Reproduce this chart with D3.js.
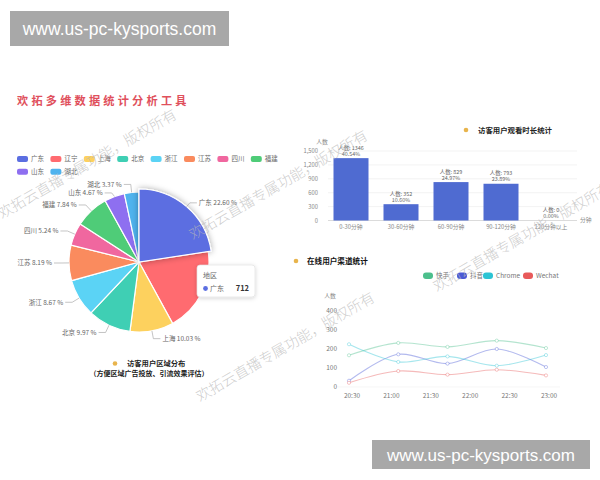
<!DOCTYPE html>
<html><head><meta charset="utf-8">
<script src="https://cdn.jsdelivr.net/npm/d3@7"></script>
<style>
body{margin:0;background:#fff;}
svg{display:block;font-family:"Noto Sans CJK SC","Noto Sans",sans-serif;}
</style></head>
<body><svg id="c" width="600" height="480"></svg>
<script>
// ---------- data ----------
const regions = ["广东","辽宁","上海","北京","浙江","江苏","四川","福建","山东","湖北"];
const regionValues = [712,612,316,314,273,258,165,247,147,106];
const regionColors = ["#5b6ee1","#ff6b70","#fdd15e","#3fcfb4","#5bd3f5","#fa8b5e","#f0679f","#4fcc78","#8e6ff0","#4fb3ee"];

const durations = ["0-30分钟","30-60分钟","60-90分钟","90-120分钟","120分钟以上"];
const durationValues = [1346,352,829,793,0];
const barTicks = [0,300,600,900,1200,1500];

const timeLabels = ["20:30","21:00","21:30","22:00","22:30","23:00"];
const sampleTimes = ["20:30","21:07:30","21:45","22:22:30","23:00"];
const channels = ["快手","抖音","Chrome","Wechat"];
const channelColors = ["#4cbf8c","#4b5bd6","#2cc4d4","#e85a5a"];
const kuaishou = [167,232,211,244,205];
const douyin   = [33,172,123,200,105];
const chrome   = [225,132,161,112,168];
const wechat   = [22,84,65,91,61];
const lineTicks = [0,100,200,300,400];

const watermark = "欢拓云直播专属功能，版权所有";
const site = "www.us-pc-kysports.com";

// ---------- drawing ----------
const svg = d3.select("#c");
const defs = svg.append("defs");
const f = defs.append("filter").attr("id","sh").attr("x","-30%").attr("y","-30%").attr("width","160%").attr("height","160%");
f.append("feDropShadow").attr("dx",0).attr("dy",0).attr("stdDeviation",3).attr("flood-color","#000").attr("flood-opacity",0.35);
const f2 = defs.append("filter").attr("id","sh2").attr("x","-30%").attr("y","-30%").attr("width","160%").attr("height","160%");
f2.append("feDropShadow").attr("dx",0).attr("dy",1).attr("stdDeviation",2).attr("flood-color","#000").attr("flood-opacity",0.18);

// top url box
svg.append("rect").attr("x",10).attr("y",11).attr("width",219).attr("height",35).attr("fill","#a8a8a8");
svg.append("text").attr("x",119.5).attr("y",35).attr("text-anchor","middle").attr("fill","#fff")
  .style("font-family","'Liberation Sans',Arial,sans-serif").attr("font-size",17.5).text(site);

// main title
svg.append("text").attr("x",17).attr("y",105).attr("fill","#e0505c").attr("font-size",11.2)
  .attr("font-weight","bold").attr("letter-spacing",3.2).text("欢拓多维数据统计分析工具");

// pie legend
const leg = svg.append("g");
regions.forEach((r,i)=>{
  const col = i%8, row = Math.floor(i/8);
  const x = 17 + col*33.4, y = 159 + row*12.7;
  leg.append("rect").attr("x",x).attr("y",y-3).attr("width",11).attr("height",6).attr("rx",2).attr("fill",regionColors[i]);
  leg.append("text").attr("x",x+14).attr("y",y+2.3).attr("font-size",6.5).attr("fill","#666").text(r);
});

// pie
const cx = 139, cy = 262, R = 70;
const total = d3.sum(regionValues);
const pie = d3.pie().sort(null)(regionValues);
const arc = d3.arc().innerRadius(0).outerRadius(R);
const arcHi = d3.arc().innerRadius(0).outerRadius(R+3);
const pg = svg.append("g").attr("transform",`translate(${cx},${cy})`);
pg.selectAll("path.s").data(pie).join("path")
  .attr("d",(d,i)=> i===0 ? arcHi(d) : arc(d))
  .attr("fill",(d,i)=>regionColors[i])
  .attr("stroke","#fff").attr("stroke-width",1.2)
  .attr("filter",(d,i)=> i===0 ? "url(#sh)" : null);
pg.selectAll("path").filter((d,i)=>i===0).raise();

// labels with leader lines
const labels = pie.map((d,i)=>{
  const a = (d.startAngle+d.endAngle)/2;
  const rr = i===0 ? R+3 : R;
  const sx = Math.sin(a), sy = -Math.cos(a);
  const side = sx >= 0 ? 1 : -1;
  return {i, a, side, p1:[sx*rr, sy*rr], p2:[sx*(R+8), sy*(R+8)]};
}).filter(l => l.i !== 1); // 辽宁 label hidden under tooltip
[-1,1].forEach(s=>{
  const arr = labels.filter(l=>l.side===s).sort((a,b)=>a.p2[1]-b.p2[1]);
  for(let k=1;k<arr.length;k++){
    if(arr[k].p2[1]-arr[k-1].p2[1] < 8.5) arr[k].p2[1] = arr[k-1].p2[1]+8.5;
  }
});
labels.forEach(l=>{
  const p3 = [l.p2[0]+l.side*7, l.p2[1]];
  pg.append("polyline").attr("points",[l.p1,l.p2,p3].map(p=>p.join(",")).join(" "))
    .attr("fill","none").attr("stroke","#aaa").attr("stroke-width",0.7);
  const pct = (regionValues[l.i]/total*100).toFixed(2);
  pg.append("text").attr("x",p3[0]+l.side*2).attr("y",p3[1]+2.3)
    .attr("text-anchor", l.side>0 ? "start":"end").attr("font-size",6.5).attr("fill","#666")
    .text(`${regions[l.i]} ${pct} %`);
});

// tooltip
const tt = svg.append("g").attr("transform","translate(197,265)");
tt.append("rect").attr("width",58).attr("height",32).attr("rx",3).attr("fill","#fff")
  .attr("stroke","#ddd").attr("stroke-width",0.6).attr("filter","url(#sh2)");
tt.append("text").attr("x",6).attr("y",13).attr("font-size",7).attr("fill","#666").text("地区");
tt.append("circle").attr("cx",8.5).attr("cy",23.5).attr("r",2.4).attr("fill",regionColors[0]);
tt.append("text").attr("x",13).attr("y",26).attr("font-size",7).attr("fill","#666").text(regions[0]);
tt.append("text").attr("x",52).attr("y",26).attr("text-anchor","end").attr("font-size",7.5)
  .attr("font-weight","bold").attr("fill","#333").text(regionValues[0]);

// pie caption
svg.append("circle").attr("cx",115).attr("cy",363.5).attr("r",2.3).attr("fill","#e8b44c");
svg.append("text").attr("x",127).attr("y",366).attr("font-size",7.3).attr("font-weight","bold").attr("fill","#222").text("访客用户区域分布");
svg.append("text").attr("x",149).attr("y",375.5).attr("text-anchor","middle").attr("font-size",7).attr("font-weight","bold").attr("fill","#222").text("（方便区域广告投放、引流效果评估）");

// ---------- bar chart ----------
svg.append("circle").attr("cx",466).attr("cy",130).attr("r",2.3).attr("fill","#e8b44c");
svg.append("text").attr("x",478).attr("y",133).attr("font-size",7.4).attr("font-weight","bold").attr("fill","#222").text("访客用户观看时长统计");

const bx = d3.scaleBand().domain(durations).range([326,576]).paddingInner(0.3).paddingOuter(0.15);
const by = d3.scaleLinear().domain([0,1500]).range([220.5,151]);
const bg = svg.append("g");
bg.selectAll("line.g").data(barTicks.slice(1)).join("line")
  .attr("x1",328).attr("x2",577).attr("y1",d=>by(d)).attr("y2",d=>by(d)).attr("stroke","#eee").attr("stroke-width",0.7);
bg.append("line").attr("x1",328).attr("x2",577).attr("y1",by(0)).attr("y2",by(0)).attr("stroke","#ccc").attr("stroke-width",0.7);
bg.selectAll("text.y").data(barTicks).join("text")
  .attr("x",318).attr("y",d=>by(d)+2).attr("text-anchor","end").attr("font-size",5.8).attr("fill","#888")
  .text(d3.format(","));
bg.append("text").attr("x",322).attr("y",144).attr("text-anchor","middle").attr("font-size",5.8).attr("fill","#888").text("人数");
bg.append("text").attr("x",580).attr("y",222).attr("font-size",5.8).attr("fill","#888").text("分钟");
const btot = d3.sum(durationValues);
bg.selectAll("rect.b").data(durationValues).join("rect")
  .attr("x",(d,i)=>bx(durations[i])).attr("width",bx.bandwidth())
  .attr("y",d=>by(d)).attr("height",d=>by(0)-by(d)).attr("fill","#4f6bd1");
durationValues.forEach((v,i)=>{
  const x = bx(durations[i])+bx.bandwidth()/2;
  bg.append("text").attr("x",x).attr("y",by(v)-8.5).attr("text-anchor","middle").attr("font-size",5.4).attr("fill","#666").text(`人数: ${v}`);
  bg.append("text").attr("x",x).attr("y",by(v)-2.5).attr("text-anchor","middle").attr("font-size",5.4).attr("fill","#666").text(`${(v/btot*100).toFixed(2)}%`);
  bg.append("text").attr("x",x).attr("y",228.5).attr("text-anchor","middle").attr("font-size",5.8).attr("fill","#888").text(durations[i]);
});

// ---------- line chart ----------
svg.append("circle").attr("cx",296).attr("cy",261).attr("r",2.3).attr("fill","#e8b44c");
svg.append("text").attr("x",307).attr("y",264).attr("font-size",7.6).attr("font-weight","bold").attr("fill","#111").text("在线用户渠道统计");

const legX = [423,457,483,523];
channels.forEach((c,i)=>{
  svg.append("rect").attr("x",legX[i]).attr("y",272.5).attr("width",10).attr("height",6.5).attr("rx",3).attr("fill",channelColors[i]);
  svg.append("text").attr("x",legX[i]+13).attr("y",278).attr("font-size",6.5).attr("fill","#777").text(c);
});

const parse = d3.timeParse("%H:%M:%S");
const toT = s => parse(s.length===5 ? s+":00" : s);
const lx = d3.scaleTime().domain([toT("20:30"),toT("23:00")]).range([349,546]);
const ly = d3.scaleLinear().domain([0,400]).range([387,311]);
const lg = svg.append("g");
lg.append("line").attr("x1",338).attr("x2",560).attr("y1",ly(0)).attr("y2",ly(0)).attr("stroke","#f2f2f2").attr("stroke-width",0.7);
lg.selectAll("text.y").data(lineTicks).join("text")
  .attr("x",337).attr("y",d=>ly(d)+2.3).attr("text-anchor","end").attr("font-size",6.5).attr("fill","#777").text(d=>d);
lg.append("text").attr("x",330).attr("y",298).attr("text-anchor","middle").attr("font-size",5.8).attr("fill","#888").text("人数");
lg.selectAll("text.x").data(timeLabels).join("text")
  .attr("x",d=>lx(toT(d))+3).attr("y",397.5).attr("text-anchor","middle").attr("font-size",6.5).attr("fill","#777").text(d=>d);

const series = [kuaishou, douyin, chrome, wechat];
const line = d3.line().x((d,i)=>lx(toT(sampleTimes[i]))).y(d=>ly(d)).curve(d3.curveCatmullRom.alpha(0.5));
series.forEach((s,k)=>{
  lg.append("path").attr("d",line(s)).attr("fill","none").attr("stroke",channelColors[k])
    .attr("stroke-opacity",0.42).attr("stroke-width",1.1);
  lg.selectAll(null).data(s).join("circle")
    .attr("cx",(d,i)=>lx(toT(sampleTimes[i]))).attr("cy",d=>ly(d)).attr("r",1.6)
    .attr("fill","#fff").attr("stroke",channelColors[k]).attr("stroke-opacity",0.5).attr("stroke-width",0.7);
});

// ---------- watermarks ----------
const wmPos = [[2,219],[193,240],[437,292],[200,402]];
svg.selectAll("text.wm").data(wmPos).join("text")
  .attr("transform",d=>`translate(${d[0]},${d[1]}) rotate(-30)`)
  .attr("font-size",14.5).attr("fill","#b8b8b8").attr("fill-opacity",0.7)
  .attr("font-weight",300).text(watermark);

// bottom url box
svg.append("rect").attr("x",372).attr("y",440).attr("width",218).attr("height",29).attr("fill","#a8a8a8");
svg.append("text").attr("x",481).attr("y",461).attr("text-anchor","middle").attr("fill","#fff")
  .style("font-family","'Liberation Sans',Arial,sans-serif").attr("font-size",17).text(site);
</script></body></html>
